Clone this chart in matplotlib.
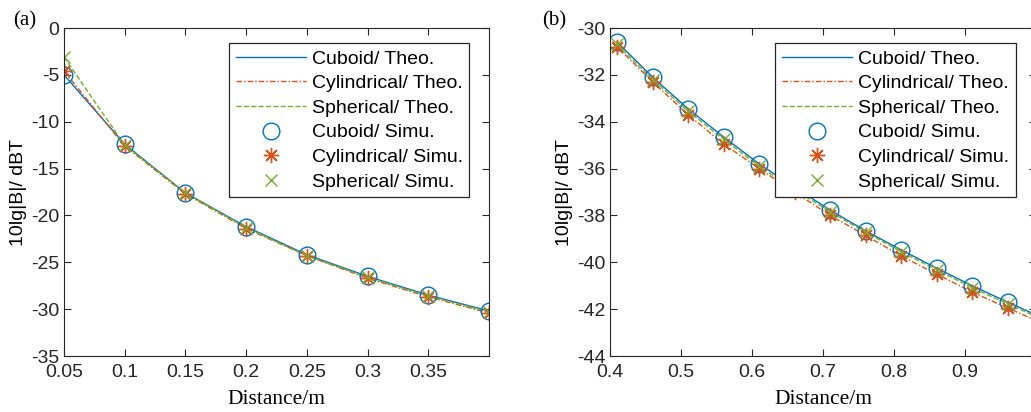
import numpy as np
import matplotlib
matplotlib.use("Agg")
import matplotlib.pyplot as plt

plt.rcParams['font.family'] = ['Liberation Sans', 'DejaVu Sans']
plt.rcParams['axes.unicode_minus'] = False

# (a) near field
x_a = [0.05, 0.10, 0.15, 0.20, 0.25, 0.30, 0.35, 0.40]
cuboid_a = [-5.0, -12.4, -17.6, -21.2, -24.2, -26.5, -28.5, -30.2]
cylind_a = [-4.6, -12.6, -17.7, -21.4, -24.3, -26.7, -28.7, -30.4]
spher_a = [-3.1, -12.5, -17.6, -21.3, -24.3, -26.6, -28.6, -30.3]

# (b) far field
x_b = [0.41, 0.46, 0.51, 0.56, 0.61, 0.66, 0.71, 0.76, 0.81, 0.86, 0.91, 0.96, 1.01]
cuboid_b = [-30.6, -32.1, -33.45, -34.65, -35.8, -36.8, -37.77, -38.66, -39.47, -40.25, -41.0, -41.7, -42.38]
cylind_b = [-30.8, -32.3, -33.7, -34.95, -36.0, -37.0, -38.0, -38.85, -39.73, -40.5, -41.27, -41.95, -42.62]
spher_b = [-30.7, -32.2, -33.55, -34.75, -35.9, -36.9, -37.85, -38.72, -39.55, -40.33, -41.08, -41.78, -42.45]

labels = ["Cuboid/ Theo.", "Cylindrical/ Theo.", "Spherical/ Theo.",
          "Cuboid/ Simu.", "Cylindrical/ Simu.", "Spherical/ Simu."]

blue = "#0072BD"
orange = "#D95319"
green = "#77AC30"
dark = "#262626"
fs = 14

fig = plt.figure(figsize=(10.31, 4.12), dpi=100)
ax1 = fig.add_axes([0.0621, 0.1359, 0.4122, 0.796])
ax2 = fig.add_axes([0.5917, 0.1359, 0.4132, 0.796])


def draw(ax, x, cu, cy, sp):
    h = []
    h += ax.plot(x, cu, '-', color=blue, lw=1.0)
    h += ax.plot(x, cy, color=orange, lw=1.0, dashes=[4, 1.5, 1, 1.5])
    h += ax.plot(x, sp, '--', color=green, lw=1.0)
    h += ax.plot(x, cu, marker='o', color=blue, mfc='none', ms=12, mew=1.0, ls='none')
    h += ax.plot(x, cy, marker=(8, 2, 0), color=orange, ms=11, mew=1.0, ls='none')
    h += ax.plot(x, sp, marker='x', color=green, ms=8, mew=1.0, ls='none')
    for s in ax.spines.values():
        s.set_color(dark)
        s.set_linewidth(0.8)
    ax.tick_params(direction='in', top=True, right=True, labelsize=fs,
                   colors=dark, length=5, width=0.8)
    ax.tick_params(axis='x', pad=6)
    ax.set_xlabel("Distance/m", family=['Liberation Serif'], fontsize=15.5, labelpad=6)
    ax.set_ylabel("10lg|B|/ dBT", fontsize=fs, labelpad=3)
    leg = ax.legend(h, labels, loc='upper left', bbox_to_anchor=(0.388, 0.954),
                    borderaxespad=0, fontsize=fs, frameon=True, fancybox=False,
                    framealpha=1, edgecolor=dark, handlelength=3.6,
                    handletextpad=0.3, labelspacing=0.36, borderpad=0.35,
                    numpoints=1)
    leg.get_frame().set_linewidth(0.9)
    return h


draw(ax1, x_a, cuboid_a, cylind_a, spher_a)
ax1.set_xlim(0.05, 0.40)
ax1.set_ylim(-35, 0)
ax1.set_xticks([0.05, 0.1, 0.15, 0.2, 0.25, 0.3, 0.35])
ax1.set_xticklabels(["0.05", "0.1", "0.15", "0.2", "0.25", "0.3", "0.35"])
ax1.set_yticks(np.arange(-35, 1, 5))

draw(ax2, x_b, cuboid_b, cylind_b, spher_b)
ax2.set_xlim(0.4, 1.0)
ax2.set_ylim(-44, -30)
ax2.set_xticks([0.4, 0.5, 0.6, 0.7, 0.8, 0.9])
ax2.set_xticklabels(["0.4", "0.5", "0.6", "0.7", "0.8", "0.9"])
ax2.set_yticks(np.arange(-44, -29, 2))

fig.text(0.0125, 0.95, "(a)", family=['Liberation Serif'], fontsize=15, va='center')
fig.text(0.526, 0.95, "(b)", family=['Liberation Serif'], fontsize=15, va='center')

fig.savefig("out.png", dpi=100)
